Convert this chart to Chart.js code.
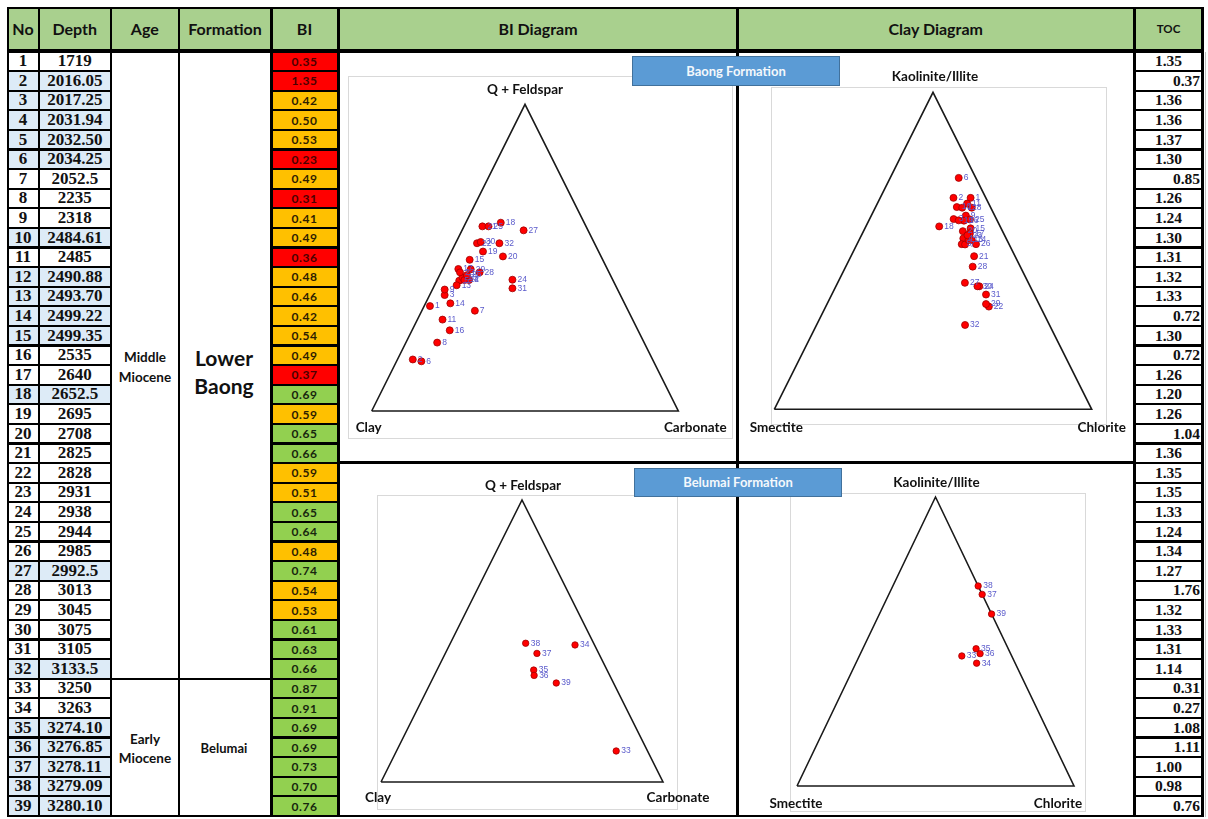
<!DOCTYPE html>
<html>
<head>
<meta charset="utf-8">
<script src="https://cdn.jsdelivr.net/npm/chart.js@4.4.1/dist/chart.umd.min.js"></script>
<style>
  html, body { margin: 0; padding: 0; background: #fff; }
  #page { position: relative; width: 1208px; height: 819px; overflow: hidden; background: #fff;
          font-family: Lato, "Open Sans", "DejaVu Sans", sans-serif; }
  .box { position: absolute; box-sizing: border-box; }
  .c { position: absolute; box-sizing: border-box; display: flex; align-items: center;
       justify-content: center; white-space: nowrap; }
  .hd { background: #a9d08e; font-weight: 700; font-size: 16px; color: #111; }
  .ser { font-family: "Liberation Serif", "DejaVu Serif", serif; font-weight: 700; color: #111; }
  .bi { font-weight: 700; font-size: 12px; letter-spacing: 0.6px; }
  .txt { position: absolute; font-weight: 700; color: #111; text-align: center; line-height: 1.2; }
  .tag { position: absolute; box-sizing: border-box; background: #5b9bd5; border: 1px solid #41719c;
         color: #f4f8fc; font-size: 13px; font-weight: 700; display: flex; align-items: center;
         justify-content: center; z-index: 5; }
  canvas { position: absolute; z-index: 3; }
</style>
</head>
<body>
<div id="page"></div>
<script>
// ---------------- sample table ----------------
const sampleNo = [1,2,3,4,5,6,7,8,9,10,11,12,13,14,15,16,17,18,19,20,
                  21,22,23,24,25,26,27,28,29,30,31,32,33,34,35,36,37,38,39];
const depths = ["1719","2016.05","2017.25","2031.94","2032.50","2034.25","2052.5","2235","2318","2484.61",
                "2485","2490.88","2493.70","2499.22","2499.35","2535","2640","2652.5","2695","2708",
                "2825","2828","2931","2938","2944","2985","2992.5","3013","3045","3075",
                "3105","3133.5","3250","3263","3274.10","3276.85","3278.11","3279.09","3280.10"];
const biValues = [0.35,1.35,0.42,0.50,0.53,0.23,0.49,0.31,0.41,0.49,
                  0.36,0.48,0.46,0.42,0.54,0.49,0.37,0.69,0.59,0.65,
                  0.66,0.59,0.51,0.65,0.64,0.48,0.74,0.54,0.53,0.61,
                  0.63,0.66,0.87,0.91,0.69,0.69,0.73,0.70,0.76];
// brittleness class per sample: L = low, M = moderate, H = high
const biClass = ["L","L","M","M","M","L","M","L","M","M",
                 "L","M","M","M","M","M","L","H","M","H",
                 "H","M","M","H","H","M","H","M","M","H",
                 "H","H","H","H","H","H","H","H","H"];
const tocValues = ["1.35","0.37","1.36","1.36","1.37","1.30","0.85","1.26","1.24","1.30",
                   "1.31","1.32","1.33","0.72","1.30","0.72","1.26","1.20","1.26","1.04",
                   "1.36","1.35","1.35","1.33","1.24","1.34","1.27","1.76","1.32","1.33",
                   "1.31","1.14","0.31","0.27","1.08","1.11","1.00","0.98","0.76"];
// TOC cells stored as numbers (right aligned) rather than text
const tocNumericRows = [2,7,14,16,20,28,33,34,35,36,39];
// depth cells entered as text (shaded)
const shadedRows = [2,3,4,5,6,10,12,13,14,15,18,27,32,35,36,37,38,39];

// ---------------- ternary compositions (%) ----------------
// Baong Formation, samples 1-32: Q+Feldspar / Clay / Carbonate
const baongQF   = [34.2,16.8,37.8,42.7,42.5,16.2,32.7,22.3,39.6,43.6,29.8,42.7,41.0,35.1,49.3,26.3,
                   46.3,61.4,52.0,50.4,60.2,54.7,45.2,42.8,60.2,44.3,58.9,45.2,46.2,55.1,40.0,54.7];
const baongClay = [63.9,78.2,57.3,46.9,50.2,75.7,50.0,67.5,56.4,48.6,62.0,48.4,51.8,56.8,43.4,61.4,
                   48.6,27.2,37.7,32.0,33.8,38.3,48.6,32.7,31.8,46.8,21.0,42.2,44.6,36.9,34.1,31.0];
const baongCarb = [1.9,5.0,4.9,10.4,7.3,8.1,17.3,10.2,4.0,7.8,8.2,8.9,7.2,8.1,7.3,12.3,
                   5.1,11.4,10.3,17.6,6.0,7.0,6.2,24.5,8.0,8.9,20.1,12.6,9.2,8.0,25.9,14.3];
// Baong Formation, samples 1-32: Kaolinite+Illite / Smectite / Chlorite
const baongKaol = [66.7,66.7,60.0,53.9,52.1,73.0,52.0,63.6,61.1,63.8,64.9,63.6,53.4,53.4,57.1,59.5,
                   55.5,57.7,59.6,56.2,48.3,32.4,54.9,38.8,59.9,52.1,39.9,45.0,33.2,38.8,36.2,26.6];
const baongSmec = [4.8,10.2,13.5,13.5,14.9,5.4,13.9,6.0,9.1,10.6,6.8,9.0,12.1,11.1,9.6,10.5,
                   10.6,19.2,12.1,12.5,12.9,16.2,11.7,16.0,8.4,10.4,20.0,15.0,16.7,16.6,15.2,26.6];
const baongChl  = [28.5,23.1,26.5,32.6,33.0,21.6,34.1,30.4,29.8,25.6,28.3,27.4,34.5,35.5,33.3,30.0,
                   33.9,23.1,28.3,31.3,38.8,51.4,33.4,45.2,31.7,37.5,40.1,40.0,50.1,44.6,48.6,46.8];
// Belumai Formation, samples 33-39
const belumaiQF   = [11.0,48.6,39.7,37.8,45.6,49.2,35.1];
const belumaiClay = [11.1,6.9,26.0,26.8,21.9,24.1,20.3];
const belumaiCarb = [77.9,44.5,34.3,35.4,32.5,26.7,44.6];
const belumaiKaol = [45.0,42.5,47.5,45.8,66.3,69.2,59.5];
const belumaiSmec = [18.0,13.9,11.6,11.0,0.0,0.0,0.0];
const belumaiChl  = [37.0,43.6,40.9,43.2,33.7,30.8,40.5];

// ---------------- layout ----------------
const page = document.getElementById('page');
function el(cls, x0, y0, x1, y1, css) {
  const d = document.createElement('div');
  d.className = cls;
  d.style.left = x0 + 'px'; d.style.top = y0 + 'px';
  d.style.width = (x1 - x0) + 'px'; d.style.height = (y1 - y0) + 'px';
  if (css) Object.assign(d.style, css);
  page.appendChild(d);
  return d;
}
const COL = {
  no: [8.5, 37.5], depth: [40, 109.5], age: [112, 177.5], form: [180, 270],
  bi: [272.5, 336.5], biDia: [340, 736], clayDia: [738.5, 1133], toc: [1136, 1201]
};
const HEAD_Y = [9, 48.5];
const ROW0 = 52.5, PITCH = 19.6, FILL = 17.6;
const rowTop = i => ROW0 + i * PITCH;
const SPLIT = 32; // first Belumai row index
const bottomY = rowTop(sampleNo.length - 1) + FILL;

// grid lines: black backing, cells are filled on top of it
el('box', 6.5, 7, 1203.5, bottomY + 2, { background: '#000' });
el('box', 1205, 52, 1206.2, bottomY + 2, { background: '#bfbfbf' });

// header row
const heads = [['no','No'],['depth','Depth'],['age','Age'],['form','Formation'],['bi','BI'],
               ['biDia','BI Diagram'],['clayDia','Clay Diagram'],['toc','TOC']];
heads.forEach(([k, t]) => {
  const d = el('c hd', COL[k][0], HEAD_Y[0], COL[k][1], HEAD_Y[1]);
  d.textContent = t;
  if (k === 'toc') d.style.fontSize = '11.5px';
});

// merged white blocks: age, formation, diagram panels
const splitY = rowTop(SPLIT);
['age','form'].forEach(k => {
  el('box', COL[k][0], ROW0, COL[k][1], splitY - 2, { background: '#fff' });
  el('box', COL[k][0], splitY, COL[k][1], bottomY, { background: '#fff' });
});
const PANEL_SPLIT = 462.5;
['biDia','clayDia'].forEach(k => {
  el('box', COL[k][0], ROW0, COL[k][1], PANEL_SPLIT - 1.5, { background: '#fff' });
  el('box', COL[k][0], PANEL_SPLIT + 1, COL[k][1], bottomY, { background: '#fff' });
});

// per-sample rows
const biFill = { L: '#ff0000', M: '#ffc000', H: '#92d050' };
const biInk  = { L: '#4a0000', M: '#2e2000', H: '#17260e' };
sampleNo.forEach((n, i) => {
  const y0 = rowTop(i), y1 = y0 + FILL;
  const shade = shadedRows.includes(n) ? '#ddebf7' : '#fff';
  const a = el('c ser', COL.no[0], y0, COL.no[1], y1, { background: shade, fontSize: '17px' });
  a.textContent = n;
  const b = el('c ser', COL.depth[0], y0, COL.depth[1], y1, { background: shade, fontSize: '17px' });
  b.textContent = depths[i];
  const c = el('c bi', COL.bi[0], y0, COL.bi[1], y1,
               { background: biFill[biClass[i]], color: biInk[biClass[i]] });
  c.textContent = biValues[i].toFixed(2);
  const right = tocNumericRows.includes(n);
  const t = el('c ser', COL.toc[0], y0, COL.toc[1], y1,
               { background: '#fff', fontSize: '15.5px',
                 justifyContent: right ? 'flex-end' : 'center',
                 paddingRight: right ? '1px' : '0' });
  t.textContent = tocValues[i];
});

// age / formation captions
function caption(lines, cx, cy, size, lh) {
  const d = document.createElement('div');
  d.className = 'txt';
  d.style.left = (cx - 60) + 'px'; d.style.width = '120px';
  d.style.fontSize = size + 'px'; d.style.lineHeight = lh + 'px';
  d.style.top = (cy - lines.length * lh / 2) + 'px';
  d.innerHTML = lines.join('<br>');
  page.appendChild(d);
}
caption(['Middle','Miocene'], 145, 367, 13.5, 20);
caption(['Early','Miocene'], 145, 749, 13.5, 19);
caption(['Lower','Baong'], 224, 372, 21, 28);
caption(['Belumai'], 224, 748, 13, 16);

// formation tags
el('tag', 632, 55.5, 840, 85.5).textContent = 'Baong Formation';
el('tag', 634, 467.5, 842, 496.5).textContent = 'Belumai Formation';

// light frames around each diagram
const frames = [[347.5, 76, 733, 439], [770.5, 87, 1107, 425], [377, 494.5, 678, 810], [790, 493, 1086, 812]];
frames.forEach(f => el('box', f[0], f[1], f[2], f[3], { border: '1px solid #d9d9d9', zIndex: 2 }));

// ---------------- ternary charts ----------------
function toXY(top, left, right) {
  const s = top + left + right;
  return { x: (right + top / 2) / s, y: top / s };
}
const ternaryLabels = {
  id: 'ternaryLabels',
  afterDatasetsDraw(chart, args, o) {
    const ctx = chart.ctx, xs = chart.scales.x, ys = chart.scales.y;
    ctx.save();
    ctx.font = o.numFont; ctx.fillStyle = '#5a5acb';
    ctx.textAlign = 'left'; ctx.textBaseline = 'middle';
    chart.getDatasetMeta(1).data.forEach((p, i) => {
      ctx.fillText(String(o.ids[i]), p.x + o.numDx, p.y + o.numDy);
    });
    ctx.font = 'bold 13.5px Lato, "Open Sans", sans-serif'; ctx.fillStyle = '#111';
    ctx.textAlign = 'center';
    o.vertices.forEach(v => {
      ctx.fillText(v.text, xs.getPixelForValue(v.x) + v.dx, ys.getPixelForValue(v.y) + v.dy);
    });
    ctx.restore();
  }
};
function ternary(box, pad, ids, tops, lefts, rights, names, offs, radius) {
  const cv = document.createElement('canvas');
  cv.width = box[2]; cv.height = box[3];
  cv.style.left = box[0] + 'px'; cv.style.top = box[1] + 'px';
  page.appendChild(cv);
  const pts = tops.map((t, i) => toXY(t, lefts[i], rights[i]));
  return new Chart(cv, {
    type: 'scatter',
    data: { datasets: [
      { data: [{x:0,y:0},{x:1,y:0},{x:0.5,y:1},{x:0,y:0}], showLine: true, borderColor: '#1a1a1a',
        borderWidth: 1.6, pointRadius: 0, clip: false, order: 2 },
      { data: pts, backgroundColor: '#ff0000', borderColor: '#a00000', borderWidth: 0.8,
        pointRadius: radius, clip: false, order: 1 }
    ]},
    options: {
      responsive: false, animation: false, events: [],
      layout: { padding: pad },
      scales: { x: { type: 'linear', min: 0, max: 1, display: false },
                y: { type: 'linear', min: 0, max: 1, display: false } },
      plugins: {
        legend: { display: false }, tooltip: { enabled: false },
        ternaryLabels: {
          ids, numFont: '8.5px Arial, "Liberation Sans", sans-serif', numDx: 5, numDy: 0,
          vertices: [
            { text: names[0], x: 0.5, y: 1, dx: offs[0][0], dy: offs[0][1] },
            { text: names[1], x: 0,   y: 0, dx: offs[1][0], dy: offs[1][1] },
            { text: names[2], x: 1,   y: 0, dx: offs[2][0], dy: offs[2][1] }
          ]
        }
      }
    },
    plugins: [ternaryLabels]
  });
}
const baongIds = sampleNo.slice(0, SPLIT), belumaiIds = sampleNo.slice(SPLIT);
ternary([340, 53, 396, 409], { left: 31.7, right: 57.7, top: 51.3, bottom: 51 },
        baongIds, baongQF, baongClay, baongCarb,
        ['Q + Feldspar', 'Clay', 'Carbonate'], [[0, -15], [-3, 17], [17, 17]], 3.5);
ternary([738, 53, 395, 409], { left: 36.3, right: 41.3, top: 39.3, bottom: 52.7 },
        baongIds, baongKaol, baongSmec, baongChl,
        ['Kaolinite/Illite', 'Smectite', 'Chlorite'], [[2, -16], [2, 18], [10, 18]], 3.5);
ternary([340, 465, 396, 351], { left: 41, right: 73, top: 35, bottom: 34 },
        belumaiIds, belumaiQF, belumaiClay, belumaiCarb,
        ['Q + Feldspar', 'Clay', 'Carbonate'], [[1, -14], [-3, 16], [15, 16]], 3.2);
ternary([738, 465, 395, 351], { left: 59, right: 59, top: 32, bottom: 30 },
        belumaiIds, belumaiKaol, belumaiSmec, belumaiChl,
        ['Kaolinite/Illite', 'Smectite', 'Chlorite'], [[1, -14], [-1, 18], [-16, 18]], 3.2);
</script>
</body>
</html>
